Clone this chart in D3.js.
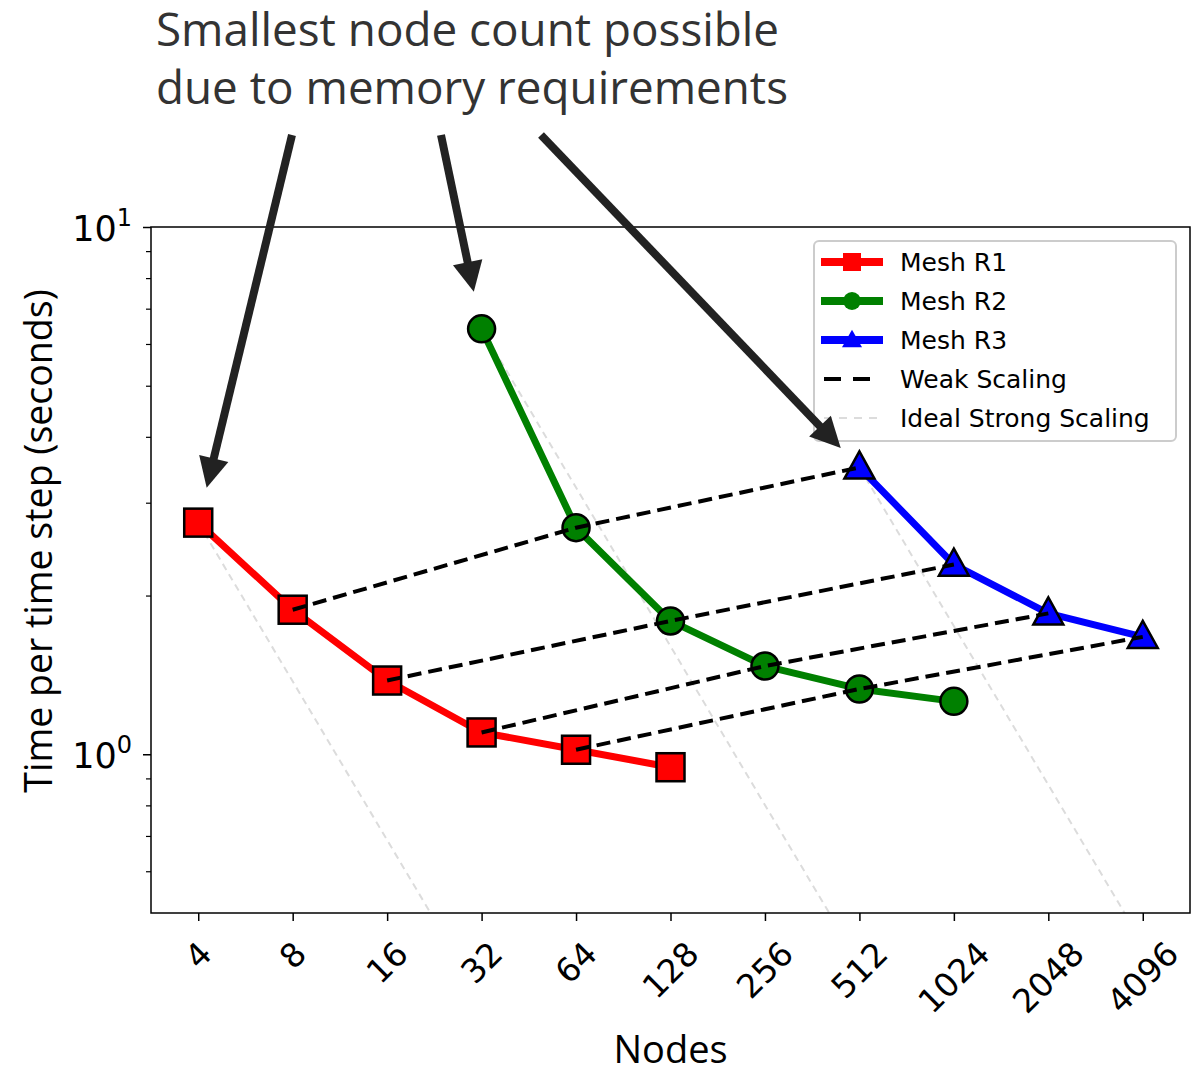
<!DOCTYPE html>
<html>
<head>
<meta charset="utf-8">
<script src="https://cdn.jsdelivr.net/npm/d3@7"></script>
<style>
  body { margin: 0; background: #fff; }
  svg { display: block; }
</style>
</head>
<body>
<svg id="chart" width="1199" height="1071"></svg>
<script>
// --- data ---
var nodeTicks = [4, 8, 16, 32, 64, 128, 256, 512, 1024, 2048, 4096];
var r1Nodes = [4, 8, 16, 32, 64, 128];
var r1Time  = [2.75, 1.88, 1.38, 1.10, 1.02, 0.945];
var r2Nodes = [32, 64, 128, 256, 512, 1024];
var r2Time  = [6.41, 2.69, 1.79, 1.47, 1.33, 1.26];
var r3Nodes = [512, 1024, 2048, 4096];
var r3Time  = [3.50, 2.29, 1.85, 1.67];
// weak scaling chains: same work per node, one point per mesh
var weakChains = [[8, 64, 512], [16, 128, 1024], [32, 256, 2048], [64, 512, 4096]];
var seriesNames = ["Mesh R1", "Mesh R2", "Mesh R3"];
var seriesColors = ["#ff0000", "#008000", "#0000ff"];
var seriesShapes = ["square", "circle", "triangle"];
var noteLines = ["Smallest node count possible", "due to memory requirements"];

var svg = d3.select("#chart");
var margin = {left: 151, right: 9, top: 227, bottom: 158};
var W = 1199 - margin.left - margin.right,
    H = 1071 - margin.top - margin.bottom;

// log2 x with matplotlib-like 5% padding, log10 y
var x = d3.scaleLog().base(2).domain([Math.pow(2, 1.5), Math.pow(2, 12.5)]).range([0, W]);
var y = d3.scaleLog().domain([0.5, 10]).range([H, 0]);

var series = [
  {nodes: r1Nodes, time: r1Time},
  {nodes: r2Nodes, time: r2Time},
  {nodes: r3Nodes, time: r3Time}
];
series.forEach(function(s, i) {
  s.name = seriesNames[i]; s.color = seriesColors[i]; s.shape = seriesShapes[i];
  s.pts = s.nodes.map(function(n, j) { return {n: n, t: s.time[j]}; });
});

svg.append("defs").append("clipPath").attr("id", "clip")
  .append("rect").attr("width", W).attr("height", H);

var plot = svg.append("g").attr("transform", "translate(" + margin.left + "," + margin.top + ")");
var inner = plot.append("g").attr("clip-path", "url(#clip)");

var line = d3.line().x(function(d) { return x(d.n); }).y(function(d) { return y(d.t); });

// ideal strong scaling from each mesh's first point (time halves per doubling)
series.forEach(function(s) {
  var p = s.pts[0];
  inner.append("path")
    .datum([p, {n: p.n * 128, t: p.t / 128}])
    .attr("d", line)
    .attr("fill", "none")
    .attr("stroke", "#dcdcdc")
    .attr("stroke-width", 2)
    .attr("stroke-dasharray", "7,5");
});

function marker(g, shape, color, size, edge) {
  if (shape === "square") {
    g.append("rect").attr("x", -size / 2).attr("y", -size / 2)
      .attr("width", size).attr("height", size);
  } else if (shape === "circle") {
    g.append("circle").attr("r", size / 2);
  } else {
    var h = size * 0.95;
    g.append("path").attr("d", "M0," + (-h * 0.6) + "L" + (size / 2 + 1) + "," + (h * 0.42) + "L" + (-size / 2 - 1) + "," + (h * 0.42) + "Z");
  }
  g.selectAll("*").attr("fill", color)
    .attr("stroke", edge ? "#000" : "none").attr("stroke-width", edge ? 2.5 : 0);
}

series.forEach(function(s) {
  inner.append("path").datum(s.pts).attr("d", line)
    .attr("fill", "none").attr("stroke", s.color).attr("stroke-width", 7)
    .attr("stroke-linejoin", "round");
  s.pts.forEach(function(d) {
    var g = plot.append("g").attr("transform", "translate(" + x(d.n) + "," + y(d.t) + ")");
    marker(g, s.shape, s.color, s.shape === "circle" ? 27 : 28, true);
  });
});

// weak scaling: link R1 -> R2 -> R3 points at 8x nodes
weakChains.forEach(function(chain) {
  var pts = chain.map(function(n, k) {
    var s = series[k];
    return {n: n, t: s.time[s.nodes.indexOf(n)]};
  });
  plot.append("path").datum(pts).attr("d", line)
    .attr("fill", "none").attr("stroke", "#000").attr("stroke-width", 4)
    .attr("stroke-dasharray", "14,7");
});

// frame
plot.append("rect").attr("width", W).attr("height", H)
  .attr("fill", "none").attr("stroke", "#000").attr("stroke-width", 1.5);

// x axis
var xAxis = plot.append("g").attr("transform", "translate(0," + H + ")")
  .call(d3.axisBottom(x).tickValues(nodeTicks).tickSize(8).tickFormat(""));
xAxis.select(".domain").remove();
xAxis.selectAll(".tick line").attr("stroke", "#000").attr("stroke-width", 1.5);
var tickFs = 33;
nodeTicks.forEach(function(n) {
  var g = plot.append("g");
  var t = g.append("text").text(n)
    .attr("text-anchor", "middle").attr("dy", "0.35em")
    .attr("font-family", "DejaVu Sans").attr("font-size", tickFs).attr("fill", "#000")
    .attr("transform", "rotate(-45)");
  var w = t.node().getComputedTextLength();
  var ext = (w + 0.75 * tickFs) * 0.7071;
  g.attr("transform", "translate(" + x(n) + "," + (H + 26 + ext / 2) + ")");
});

// y axis, log ticks
var yMajor = [1, 10];
var yMinor = [0.6, 0.7, 0.8, 0.9, 2, 3, 4, 5, 6, 7, 8, 9];
var yAxis = plot.append("g").call(d3.axisLeft(y).tickValues(yMajor).tickSize(8).tickFormat(""));
yAxis.select(".domain").remove();
yAxis.selectAll(".tick line").attr("stroke", "#000").attr("stroke-width", 1.5);
var yAxisMinor = plot.append("g").call(d3.axisLeft(y).tickValues(yMinor).tickSize(5).tickFormat(""));
yAxisMinor.select(".domain").remove();
yAxisMinor.selectAll(".tick line").attr("stroke", "#000").attr("stroke-width", 1.2);
yMajor.forEach(function(v) {
  var t = plot.append("text")
    .attr("x", -19).attr("y", y(v) + 14)
    .attr("text-anchor", "end")
    .attr("font-family", "DejaVu Sans").attr("font-size", 35).attr("fill", "#000");
  t.append("tspan").text("10");
  t.append("tspan").text(Math.round(Math.log10(v))).attr("font-size", 24).attr("dy", -15);
});

// axis labels
svg.append("text").text("Nodes")
  .attr("x", margin.left + W / 2).attr("y", 1063)
  .attr("text-anchor", "middle")
  .attr("font-family", "Open Sans").attr("font-size", 38).attr("fill", "#000");
svg.append("text").text("Time per time step (seconds)")
  .attr("transform", "translate(52,541)rotate(-90)")
  .attr("text-anchor", "middle")
  .attr("font-family", "Open Sans").attr("font-size", 37.5).attr("fill", "#000");

// legend
var leg = svg.append("g").attr("transform", "translate(814,241)");
leg.append("rect").attr("width", 362).attr("height", 200).attr("rx", 5)
  .attr("fill", "#fff").attr("fill-opacity", 0.8)
  .attr("stroke", "#cccccc").attr("stroke-width", 2);
var legItems = series.map(function(s) { return {name: s.name, kind: "series", s: s}; })
  .concat([{name: "Weak Scaling", kind: "weak"}, {name: "Ideal Strong Scaling", kind: "ideal"}]);
legItems.forEach(function(it, i) {
  var cy = 21 + i * 39;
  var g = leg.append("g").attr("transform", "translate(0," + cy + ")");
  if (it.kind === "series") {
    g.append("line").attr("x1", 7).attr("x2", 69).attr("stroke", it.s.color).attr("stroke-width", 8);
    var m = g.append("g").attr("transform", "translate(38,0)");
    marker(m, it.s.shape, it.s.color, 18, false);
  } else if (it.kind === "weak") {
    g.append("line").attr("x1", 10).attr("x2", 59).attr("stroke", "#000").attr("stroke-width", 4)
      .attr("stroke-dasharray", "17,12");
  } else {
    g.append("line").attr("x1", 10).attr("x2", 63).attr("stroke", "#dcdcdc").attr("stroke-width", 2)
      .attr("stroke-dasharray", "8,7");
  }
  g.append("text").text(it.name).attr("x", 86).attr("y", 9)
    .attr("font-family", "DejaVu Sans").attr("font-size", 25).attr("fill", "#000");
});

// annotation
var note = svg.append("text").attr("font-family", "Open Sans").attr("font-size", 45.8).attr("fill", "#333");
noteLines.forEach(function(l, i) {
  note.append("tspan").text(l).attr("x", 156).attr("y", 46 + i * 58);
});
var arrowStarts = [[292, 135], [441, 135], [541, 135]];
var arrowGap = [36, 38, 27];
series.forEach(function(s, i) {
  var p = s.pts[0];
  var tx = margin.left + x(p.n), ty = margin.top + y(p.t);
  var sx = arrowStarts[i][0], sy = arrowStarts[i][1];
  var dx = tx - sx, dy = ty - sy, L = Math.sqrt(dx * dx + dy * dy);
  var ux = dx / L, uy = dy / L;
  var ex = tx - ux * arrowGap[i], ey = ty - uy * arrowGap[i];
  var hl = 30, hw = 15;
  var bx = ex - ux * hl, by = ey - uy * hl;
  svg.append("line").attr("x1", sx).attr("y1", sy).attr("x2", bx + ux * 2).attr("y2", by + uy * 2)
    .attr("stroke", "#222").attr("stroke-width", 8);
  svg.append("path")
    .attr("d", "M" + ex + "," + ey + "L" + (bx - uy * hw) + "," + (by + ux * hw) + "L" + (bx + uy * hw) + "," + (by - ux * hw) + "Z")
    .attr("fill", "#222");
});
</script>
</body>
</html>
